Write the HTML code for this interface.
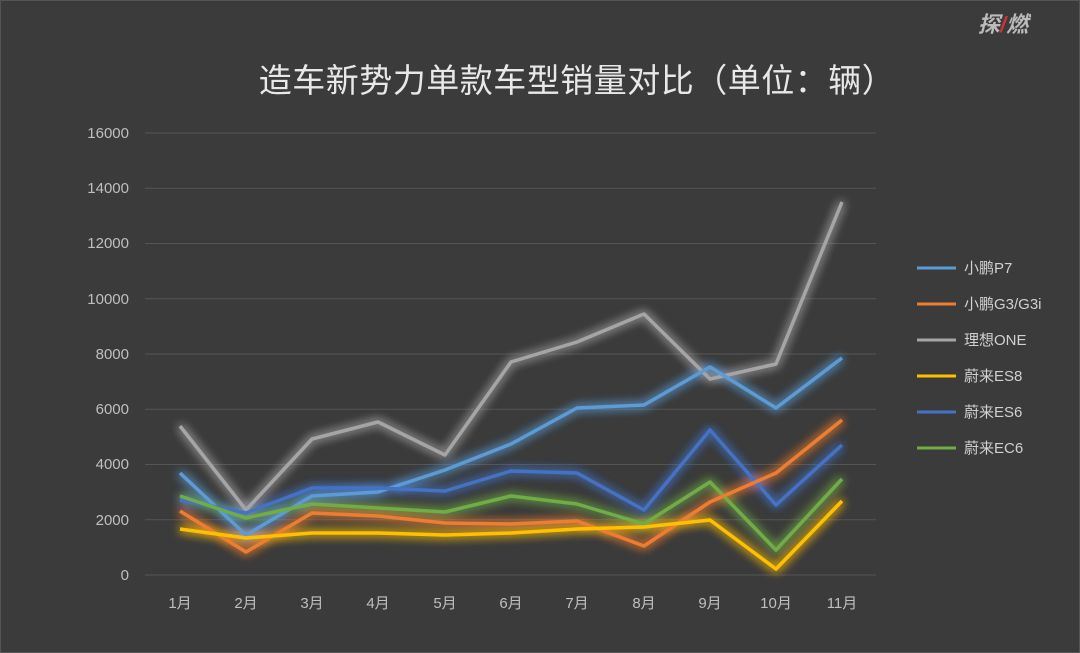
<!DOCTYPE html><html><head><meta charset="utf-8"><style>body{margin:0;background:#3b3b3b}svg{display:block}text{font-family:"Liberation Sans","Noto Sans CJK SC",sans-serif}</style></head><body>
<svg width="1080" height="653" viewBox="0 0 1080 653">
<defs><filter id="g" x="-10%" y="-30%" width="120%" height="160%"><feGaussianBlur stdDeviation="5" result="b"/><feMerge><feMergeNode in="b"/><feMergeNode in="b"/><feMergeNode in="SourceGraphic"/></feMerge></filter></defs>
<rect x="0" y="0" width="1080" height="653" fill="#3b3b3b" stroke="#555" stroke-width="2"/>
<text x="1003" y="32" fill="#bbb" font-size="22" font-weight="bold" font-style="italic" text-anchor="middle">探<tspan fill="#c33">/</tspan>燃</text>
<text x="577" y="92" fill="#e8e8e8" font-size="33" text-anchor="middle" letter-spacing="0.5">造车新势力单款车型销量对比（单位：辆）</text>
<g stroke="#555" stroke-width="1">
<line x1="145" x2="876" y1="133" y2="133"/><line x1="145" x2="876" y1="188.25" y2="188.25"/><line x1="145" x2="876" y1="243.5" y2="243.5"/><line x1="145" x2="876" y1="298.75" y2="298.75"/><line x1="145" x2="876" y1="354" y2="354"/><line x1="145" x2="876" y1="409.25" y2="409.25"/><line x1="145" x2="876" y1="464.5" y2="464.5"/><line x1="145" x2="876" y1="519.75" y2="519.75"/><line x1="145" x2="876" y1="575" y2="575"/>
</g>
<g fill="#bfbfbf" font-size="15" text-anchor="end">
<text x="129" y="138">16000</text><text x="129" y="193">14000</text><text x="129" y="248">12000</text><text x="129" y="304">10000</text><text x="129" y="359">8000</text><text x="129" y="414">6000</text><text x="129" y="469">4000</text><text x="129" y="525">2000</text><text x="129" y="580">0</text>
</g>
<g fill="#bfbfbf" font-size="15" text-anchor="middle">
<text x="180" y="608">1月</text><text x="246" y="608">2月</text><text x="312" y="608">3月</text><text x="378" y="608">4月</text><text x="445" y="608">5月</text><text x="511" y="608">6月</text><text x="577" y="608">7月</text><text x="644" y="608">8月</text><text x="710" y="608">9月</text><text x="776" y="608">10月</text><text x="842" y="608">11月</text>
</g>
<g fill="none" stroke-width="3.5" stroke-linejoin="round" filter="url(#g)">
<polyline stroke="#a5a5a5" points="180,426 246,510 312,439 378,422 445,455 511,362 577,342 644,314 710,379 776,364 842,202"/>
<polyline stroke="#5b9bd5" points="180,473 246,535 312,496 378,492 445,470 511,444 577,408 644,405 710,367 776,408 842,358"/>
<polyline stroke="#4472c4" points="180,500 246,513 312,488 378,488 445,491 511,471 577,473 644,510 710,430 776,505 842,445"/>
<polyline stroke="#70ad47" points="180,496 246,518 312,504 378,508 445,512 511,496 577,504 644,524 710,482 776,550 842,479"/>
<polyline stroke="#ed7d31" points="180,511 246,552 312,513 378,516 445,523 511,524 577,521 644,546 710,502 776,473 842,420"/>
<polyline stroke="#ffc000" points="180,529 246,538 312,533 378,533 445,535 511,533 577,529 644,527 710,520 776,569 842,501"/>
</g>
<g stroke-width="3">
<line x1="917" x2="956" y1="268" y2="268" stroke="#5b9bd5"/>
<line x1="917" x2="956" y1="304" y2="304" stroke="#ed7d31"/>
<line x1="917" x2="956" y1="340" y2="340" stroke="#a5a5a5"/>
<line x1="917" x2="956" y1="376" y2="376" stroke="#ffc000"/>
<line x1="917" x2="956" y1="412" y2="412" stroke="#4472c4"/>
<line x1="917" x2="956" y1="448" y2="448" stroke="#70ad47"/>
</g>
<g fill="#d0d0d0" font-size="15">
<text x="964" y="273">小鹏P7</text><text x="964" y="309">小鹏G3/G3i</text><text x="964" y="345">理想ONE</text><text x="964" y="381">蔚来ES8</text><text x="964" y="417">蔚来ES6</text><text x="964" y="453">蔚来EC6</text>
</g>
</svg></body></html>
